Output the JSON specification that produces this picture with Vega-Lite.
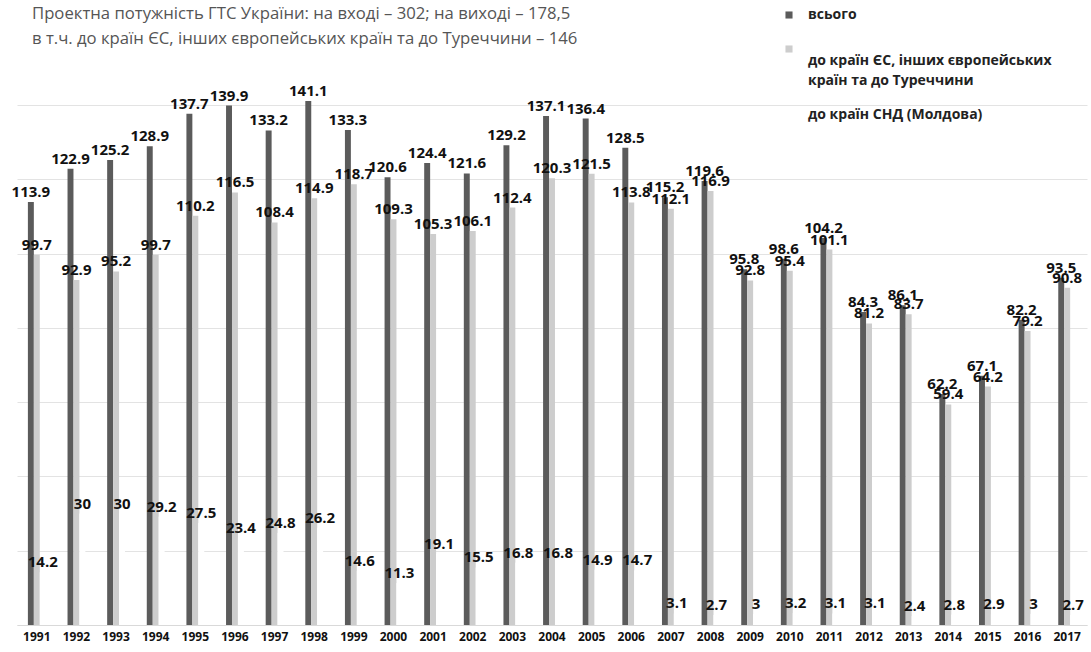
{
  "$schema": "https://vega.github.io/schema/vega-lite/v6.json",
  "autosize": {"type": "none"},
  "padding": {"left": 17, "top": 68, "right": 4, "bottom": 27},
  "width": 1070,
  "height": 557,
  "background": "white",
  "config": {"view": {"stroke": null}},
  "title": {
    "text": ["Проектна потужність ГТС України: на вході – 302; на виході – 178,5", "в т.ч. до країн ЄС, інших європейських країн та до Туреччини – 146"],
    "anchor": "start",
    "frame": "group",
    "dx": 15,
    "offset": -40,
    "font": "Open Sans",
    "fontSize": 16.7,
    "fontWeight": "normal",
    "lineHeight": 25,
    "color": "#555555"
  },
  "data": {
    "values": [
      {"year": "1991", "series": "всього", "value": 113.9},
      {"year": "1991", "series": "до країн ЄС, інших європейських країн та до Туреччини", "value": 99.7},
      {"year": "1991", "series": "до країн СНД (Молдова)", "value": 14.2},
      {"year": "1992", "series": "всього", "value": 122.9},
      {"year": "1992", "series": "до країн ЄС, інших європейських країн та до Туреччини", "value": 92.9},
      {"year": "1992", "series": "до країн СНД (Молдова)", "value": 30},
      {"year": "1993", "series": "всього", "value": 125.2},
      {"year": "1993", "series": "до країн ЄС, інших європейських країн та до Туреччини", "value": 95.2},
      {"year": "1993", "series": "до країн СНД (Молдова)", "value": 30},
      {"year": "1994", "series": "всього", "value": 128.9},
      {"year": "1994", "series": "до країн ЄС, інших європейських країн та до Туреччини", "value": 99.7},
      {"year": "1994", "series": "до країн СНД (Молдова)", "value": 29.2},
      {"year": "1995", "series": "всього", "value": 137.7},
      {"year": "1995", "series": "до країн ЄС, інших європейських країн та до Туреччини", "value": 110.2},
      {"year": "1995", "series": "до країн СНД (Молдова)", "value": 27.5},
      {"year": "1996", "series": "всього", "value": 139.9},
      {"year": "1996", "series": "до країн ЄС, інших європейських країн та до Туреччини", "value": 116.5},
      {"year": "1996", "series": "до країн СНД (Молдова)", "value": 23.4},
      {"year": "1997", "series": "всього", "value": 133.2},
      {"year": "1997", "series": "до країн ЄС, інших європейських країн та до Туреччини", "value": 108.4},
      {"year": "1997", "series": "до країн СНД (Молдова)", "value": 24.8},
      {"year": "1998", "series": "всього", "value": 141.1},
      {"year": "1998", "series": "до країн ЄС, інших європейських країн та до Туреччини", "value": 114.9},
      {"year": "1998", "series": "до країн СНД (Молдова)", "value": 26.2},
      {"year": "1999", "series": "всього", "value": 133.3},
      {"year": "1999", "series": "до країн ЄС, інших європейських країн та до Туреччини", "value": 118.7},
      {"year": "1999", "series": "до країн СНД (Молдова)", "value": 14.6},
      {"year": "2000", "series": "всього", "value": 120.6},
      {"year": "2000", "series": "до країн ЄС, інших європейських країн та до Туреччини", "value": 109.3},
      {"year": "2000", "series": "до країн СНД (Молдова)", "value": 11.3},
      {"year": "2001", "series": "всього", "value": 124.4},
      {"year": "2001", "series": "до країн ЄС, інших європейських країн та до Туреччини", "value": 105.3},
      {"year": "2001", "series": "до країн СНД (Молдова)", "value": 19.1},
      {"year": "2002", "series": "всього", "value": 121.6},
      {"year": "2002", "series": "до країн ЄС, інших європейських країн та до Туреччини", "value": 106.1},
      {"year": "2002", "series": "до країн СНД (Молдова)", "value": 15.5},
      {"year": "2003", "series": "всього", "value": 129.2},
      {"year": "2003", "series": "до країн ЄС, інших європейських країн та до Туреччини", "value": 112.4},
      {"year": "2003", "series": "до країн СНД (Молдова)", "value": 16.8},
      {"year": "2004", "series": "всього", "value": 137.1},
      {"year": "2004", "series": "до країн ЄС, інших європейських країн та до Туреччини", "value": 120.3},
      {"year": "2004", "series": "до країн СНД (Молдова)", "value": 16.8},
      {"year": "2005", "series": "всього", "value": 136.4},
      {"year": "2005", "series": "до країн ЄС, інших європейських країн та до Туреччини", "value": 121.5},
      {"year": "2005", "series": "до країн СНД (Молдова)", "value": 14.9},
      {"year": "2006", "series": "всього", "value": 128.5},
      {"year": "2006", "series": "до країн ЄС, інших європейських країн та до Туреччини", "value": 113.8},
      {"year": "2006", "series": "до країн СНД (Молдова)", "value": 14.7},
      {"year": "2007", "series": "всього", "value": 115.2},
      {"year": "2007", "series": "до країн ЄС, інших європейських країн та до Туреччини", "value": 112.1},
      {"year": "2007", "series": "до країн СНД (Молдова)", "value": 3.1},
      {"year": "2008", "series": "всього", "value": 119.6},
      {"year": "2008", "series": "до країн ЄС, інших європейських країн та до Туреччини", "value": 116.9},
      {"year": "2008", "series": "до країн СНД (Молдова)", "value": 2.7},
      {"year": "2009", "series": "всього", "value": 95.8},
      {"year": "2009", "series": "до країн ЄС, інших європейських країн та до Туреччини", "value": 92.8},
      {"year": "2009", "series": "до країн СНД (Молдова)", "value": 3},
      {"year": "2010", "series": "всього", "value": 98.6},
      {"year": "2010", "series": "до країн ЄС, інших європейських країн та до Туреччини", "value": 95.4},
      {"year": "2010", "series": "до країн СНД (Молдова)", "value": 3.2},
      {"year": "2011", "series": "всього", "value": 104.2},
      {"year": "2011", "series": "до країн ЄС, інших європейських країн та до Туреччини", "value": 101.1},
      {"year": "2011", "series": "до країн СНД (Молдова)", "value": 3.1},
      {"year": "2012", "series": "всього", "value": 84.3},
      {"year": "2012", "series": "до країн ЄС, інших європейських країн та до Туреччини", "value": 81.2},
      {"year": "2012", "series": "до країн СНД (Молдова)", "value": 3.1},
      {"year": "2013", "series": "всього", "value": 86.1},
      {"year": "2013", "series": "до країн ЄС, інших європейських країн та до Туреччини", "value": 83.7},
      {"year": "2013", "series": "до країн СНД (Молдова)", "value": 2.4},
      {"year": "2014", "series": "всього", "value": 62.2},
      {"year": "2014", "series": "до країн ЄС, інших європейських країн та до Туреччини", "value": 59.4},
      {"year": "2014", "series": "до країн СНД (Молдова)", "value": 2.8},
      {"year": "2015", "series": "всього", "value": 67.1},
      {"year": "2015", "series": "до країн ЄС, інших європейських країн та до Туреччини", "value": 64.2},
      {"year": "2015", "series": "до країн СНД (Молдова)", "value": 2.9},
      {"year": "2016", "series": "всього", "value": 82.2},
      {"year": "2016", "series": "до країн ЄС, інших європейських країн та до Туреччини", "value": 79.2},
      {"year": "2016", "series": "до країн СНД (Молдова)", "value": 3},
      {"year": "2017", "series": "всього", "value": 93.5},
      {"year": "2017", "series": "до країн ЄС, інших європейських країн та до Туреччини", "value": 90.8},
      {"year": "2017", "series": "до країн СНД (Молдова)", "value": 2.7}
    ]
  },
  "encoding": {
    "x": {
      "field": "year",
      "type": "nominal",
      "scale": {"paddingInner": 0.55, "paddingOuter": 0.275},
      "axis": {
        "title": null,
        "labelAngle": 0,
        "labelFont": "Open Sans",
        "labelFontSize": 12,
        "labelFontWeight": "bold",
        "labelColor": "#111111",
        "labelPadding": 6,
        "ticks": false,
        "domain": true,
        "domainColor": "#d9d9d9",
        "grid": false
      }
    },
    "xOffset": {
      "field": "series",
      "type": "nominal",
      "sort": ["всього", "до країн ЄС, інших європейських країн та до Туреччини", "до країн СНД (Молдова)"],
      "scale": {"paddingInner": 0, "paddingOuter": 0}
    },
    "y": {
      "field": "value",
      "type": "quantitative",
      "scale": {"domain": [0, 150], "nice": false},
      "axis": {
        "title": null,
        "labels": false,
        "ticks": false,
        "domain": false,
        "values": [0, 20, 40, 60, 80, 100, 120, 140],
        "gridColor": "#e3e3e3",
        "gridWidth": 1.2
      }
    }
  },
  "layer": [
    {
      "mark": {"type": "bar"},
      "encoding": {
        "color": {
          "field": "series",
          "type": "nominal",
          "sort": ["всього", "до країн ЄС, інших європейських країн та до Туреччини", "до країн СНД (Молдова)"],
          "scale": {
            "domain": ["всього", "до країн ЄС, інших європейських країн та до Туреччини", "до країн СНД (Молдова)"],
            "range": ["#5b5b5b", "#cdcdcd", "#ffffff"]
          },
          "legend": {
            "title": null,
            "orient": "none",
            "legendX": 765,
            "legendY": -60,
            "symbolType": "square",
            "symbolSize": 50,
            "symbolStrokeWidth": 0,
            "labelFont": "Open Sans",
            "labelFontSize": 14,
            "labelFontWeight": "bold",
            "labelColor": "#222222",
            "labelLimit": 0,
            "labelOffset": 12,
            "rowPadding": 20,
            "labelExpr": "datum.label == 'до країн ЄС, інших європейських країн та до Туреччини' ? ['до країн ЄС, інших європейських', 'країн та до Туреччини'] : datum.label",
            "encode": {"labels": {"update": {"lineHeight": {"value": 20}, "dy": {"signal": "datum.value == 'до країн ЄС, інших європейських країн та до Туреччини' ? 12 : 0"}}}}
          }
        }
      }
    },
    {
      "mark": {
        "type": "text",
        "baseline": "bottom",
        "dy": -2,
        "font": "Open Sans",
        "fontSize": 15,
        "fontWeight": "bold",
        "color": "#111111"
      },
      "encoding": {
        "text": {"field": "value", "type": "quantitative"}
      }
    }
  ]
}
